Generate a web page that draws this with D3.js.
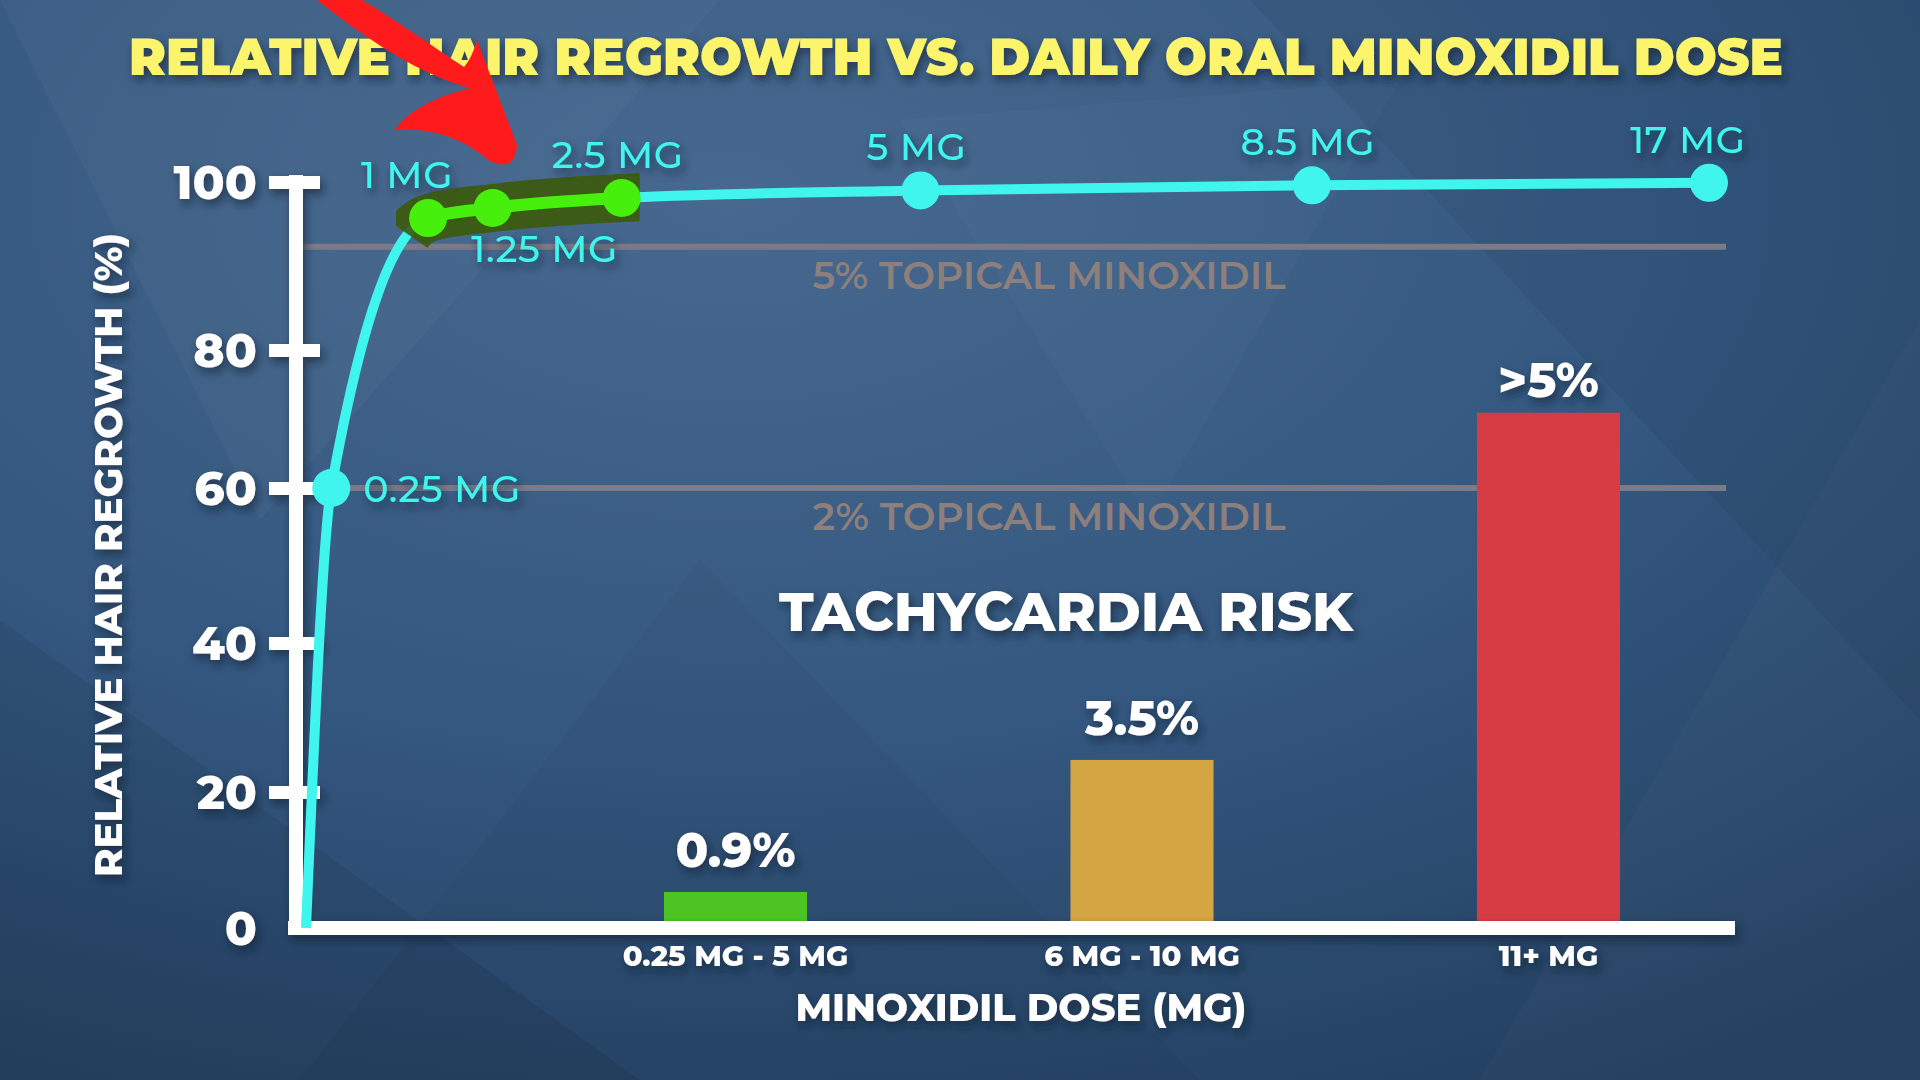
<!DOCTYPE html>
<html>
<head>
<meta charset="utf-8">
<script src="https://cdn.jsdelivr.net/npm/d3@7"></script>
<style>
html, body { margin: 0; padding: 0; background: #2c4d73; }
svg { display: block; }
text { font-family: Montserrat, Inter, "Open Sans", sans-serif; }
</style>
</head>
<body>
<div id="chart"></div>
<script>
// regrowth curve
var doseLabels = ["0 MG", "0.25 MG", "1 MG", "1.25 MG", "2.5 MG", "5 MG", "8.5 MG", "17 MG"];
var doseValues = [0, 0.25, 1, 1.25, 2.5, 5, 8.5, 17];
var regrowth = [0, 60, 95.7, 96.9, 98.1, 99.0, 99.6, 99.9];
var highlightDoses = [1, 1.25, 2.5];
var yTicks = [0, 20, 40, 60, 80, 100];

// topical reference lines
var topicalLabels = ["5% TOPICAL MINOXIDIL", "2% TOPICAL MINOXIDIL"];
var topicalLevels = [92.3, 60];

// tachycardia risk bars (heights read on the regrowth axis)
var riskCategories = ["0.25 MG - 5 MG", "6 MG - 10 MG", "11+ MG"];
var riskLabels = ["0.9%", "3.5%", ">5%"];
var riskBarLevel = [5.3, 24.3, 70.9];
var riskColors = ["#4cc524", "#d4a543", "#d63c44"];

var W = 1920, H = 1080;
var axisX = 296, plotLeft = 306, plotRight = 1709;

var svg = d3.select("#chart").append("svg")
	.attr("width", W)
	.attr("height", H);

var defs = svg.append("defs");

var bg = defs.append("radialGradient")
	.attr("id", "bg").attr("cx", "0.38").attr("cy", "0.18").attr("r", "0.95");
bg.append("stop").attr("offset", "0%").attr("stop-color", "#47698f");
bg.append("stop").attr("offset", "55%").attr("stop-color", "#34577f");
bg.append("stop").attr("offset", "100%").attr("stop-color", "#223f5f");

var sh = defs.append("filter").attr("id", "shadow")
	.attr("x", "-20%").attr("y", "-40%").attr("width", "140%").attr("height", "190%");
sh.append("feDropShadow")
	.attr("dx", 3).attr("dy", 5).attr("stdDeviation", 4)
	.attr("flood-color", "#0b1a2e").attr("flood-opacity", 0.6);

svg.append("rect").attr("width", W).attr("height", H).attr("fill", "url(#bg)");

// faint low-poly facets
var facets = [
	{p: [[0, 0], [720, 0], [260, 520]], f: "#ffffff", o: 0.03},
	{p: [[1250, 0], [1920, 0], [1920, 720]], f: "#000000", o: 0.05},
	{p: [[1480, 1080], [1920, 320], [1920, 1080]], f: "#ffffff", o: 0.02},
	{p: [[0, 620], [640, 1080], [0, 1080]], f: "#000000", o: 0.07},
	{p: [[700, 560], [1200, 1080], [300, 1080]], f: "#000000", o: 0.03},
	{p: [[900, 120], [1400, 80], [1150, 520]], f: "#ffffff", o: 0.02}
];
svg.append("g").selectAll("polygon")
	.data(facets)
	.enter().append("polygon")
	.attr("points", function(d) { return d.p.map(function(q) { return q.join(","); }).join(" "); })
	.attr("fill", function(d) { return d.f; })
	.attr("fill-opacity", function(d) { return d.o; });

// scales
var y = d3.scaleLinear()
	.domain(yTicks)
	.range([928, 792, 643, 488, 350, 182]);

var xBreaks = [0, 0.018, 0.087, 0.133, 0.225, 0.438, 0.717, 1];
var x = d3.scaleLinear()
	.domain(doseValues)
	.range(xBreaks.map(function(f) { return plotLeft + f * (plotRight - plotLeft); }));

var band = d3.scaleBand()
	.domain(riskCategories)
	.range([664, 1620])
	.paddingInner(0.648)
	.paddingOuter(0);

// topical reference lines
var topical = svg.append("g");
topical.selectAll("line")
	.data(topicalLevels)
	.enter().append("line")
	.attr("x1", axisX + 7).attr("x2", 1726)
	.attr("y1", function(d) { return y(d); })
	.attr("y2", function(d) { return y(d); })
	.attr("stroke", "#7b7a88")
	.attr("stroke-width", 6);
topical.selectAll("text")
	.data(topicalLabels)
	.enter().append("text")
	.attr("x", 1049)
	.attr("y", function(d, i) { return y(topicalLevels[i]) + 28 + 14; })
	.attr("text-anchor", "middle")
	.attr("font-size", 39)
	.attr("font-weight", 600)
	.attr("fill", "#8d7f7c")
	.attr("textLength", 473)
	.attr("lengthAdjust", "spacingAndGlyphs")
	.text(function(d) { return d; });

// risk bars
var bars = svg.append("g");
bars.selectAll("rect")
	.data(riskBarLevel)
	.enter().append("rect")
	.attr("x", function(d, i) { return band(riskCategories[i]); })
	.attr("width", band.bandwidth())
	.attr("y", function(d) { return y(d); })
	.attr("height", function(d) { return y(0) - y(d); })
	.attr("fill", function(d, i) { return riskColors[i]; });

var txt = svg.append("g").attr("filter", "url(#shadow)");

txt.selectAll(".risk")
	.data(riskLabels)
	.enter().append("text")
	.attr("class", "risk")
	.attr("x", function(d, i) { return band(riskCategories[i]) + band.bandwidth() / 2; })
	.attr("y", function(d, i) { return y(riskBarLevel[i]) - (i == 2 ? 16 : 25); })
	.attr("text-anchor", "middle")
	.attr("font-size", 48)
	.attr("font-weight", 800)
	.attr("fill", "#ffffff")
	.text(function(d) { return d; });

txt.append("text")
	.attr("x", 1066).attr("y", 631)
	.attr("text-anchor", "middle")
	.attr("font-size", 54)
	.attr("font-weight", 800)
	.attr("fill", "#ffffff")
	.attr("textLength", 574)
	.attr("lengthAdjust", "spacingAndGlyphs")
	.text("TACHYCARDIA RISK");

// axes
var axes = svg.append("g").attr("filter", "url(#shadow)");

var gy = axes.append("g")
	.attr("transform", "translate(" + axisX + ",0)")
	.call(d3.axisLeft(y).tickValues(yTicks).tickSize(0).tickPadding(39));
gy.select(".domain").remove();
gy.selectAll(".tick text")
	.attr("font-size", 47)
	.attr("font-weight", 800)
	.attr("fill", "#ffffff")
	.attr("dy", "0.36em");
gy.selectAll(".tick")
	.filter(function(d) { return d > 0; })
	.append("line")
	.attr("x1", -27).attr("x2", 24)
	.attr("stroke", "#ffffff")
	.attr("stroke-width", 13);

axes.append("line")
	.attr("x1", axisX).attr("x2", axisX)
	.attr("y1", y(100) - 7).attr("y2", y(0) + 7)
	.attr("stroke", "#ffffff")
	.attr("stroke-width", 14);

var gx = axes.append("g")
	.attr("transform", "translate(0," + y(0) + ")")
	.call(d3.axisBottom(band).tickSize(0).tickPadding(17));
gx.select(".domain").remove();
gx.selectAll(".tick text")
	.attr("font-size", 29)
	.attr("font-weight", 800)
	.attr("fill", "#ffffff");

axes.append("line")
	.attr("x1", axisX - 8).attr("x2", 1735)
	.attr("y1", y(0)).attr("y2", y(0))
	.attr("stroke", "#ffffff")
	.attr("stroke-width", 14);

txt.append("text")
	.attr("x", 1021).attr("y", 1021)
	.attr("text-anchor", "middle")
	.attr("font-size", 38)
	.attr("font-weight", 800)
	.attr("fill", "#ffffff")
	.attr("textLength", 451)
	.attr("lengthAdjust", "spacingAndGlyphs")
	.text("MINOXIDIL DOSE (MG)");

txt.append("text")
	.attr("transform", "translate(122,555) rotate(-90)")
	.attr("text-anchor", "middle")
	.attr("font-size", 38)
	.attr("font-weight", 800)
	.attr("fill", "#ffffff")
	.attr("textLength", 644)
	.attr("lengthAdjust", "spacingAndGlyphs")
	.text("RELATIVE HAIR REGROWTH (%)");

// regrowth curve
var points = doseValues.map(function(d, i) { return {dose: d, label: doseLabels[i], value: regrowth[i]}; });

var line = d3.line()
	.x(function(d) { return x(d.dose); })
	.y(function(d) { return y(d.value); })
	.curve(d3.curveMonotoneX);

var gc = svg.append("g");
var curve = gc.append("path")
	.datum(points)
	.attr("d", line)
	.attr("fill", "none")
	.attr("stroke", "#3ff5ee")
	.attr("stroke-width", 10);

var node = curve.node();
var total = node.getTotalLength();
function lengthAtX(px) {
	var lo = 0, hi = total;
	for (var i = 0; i < 40; i++) {
		var mid = (lo + hi) / 2;
		if (node.getPointAtLength(mid).x < px) lo = mid; else hi = mid;
	}
	return lo;
}
function dashFor(xa, xb) {
	var a = lengthAtX(xa), b = lengthAtX(xb);
	return "0," + a + "," + (b - a) + "," + total;
}

// highlight band (cut diagonally at its left end) and green segment
var hiMin = d3.min(highlightDoses), hiMax = d3.max(highlightDoses);
var p1 = [x(hiMin), y(regrowth[doseValues.indexOf(hiMin)])];
var p2 = [x(hiMax), y(regrowth[doseValues.indexOf(hiMax)])];
defs.append("clipPath").attr("id", "bandClip")
	.append("polygon")
	.attr("points", [
		[p1[0] - 32, p1[1] - 70],
		[p2[0] + 18, p1[1] - 70],
		[p2[0] + 18, p1[1] + 44],
		[p1[0] + 20, p1[1] + 44],
		[p1[0] - 32, p1[1] + 8]
	].map(function(q) { return q.join(","); }).join(" "));

gc.append("path")
	.datum(points)
	.attr("d", line)
	.attr("clip-path", "url(#bandClip)")
	.attr("fill", "none")
	.attr("stroke", "#3b5a0a")
	.attr("stroke-opacity", 0.9)
	.attr("stroke-width", 48)
	.attr("stroke-dasharray", dashFor(p1[0] - 45, p2[0] + 30));

gc.append("path")
	.datum(points)
	.attr("d", line)
	.attr("fill", "none")
	.attr("stroke", "#46f00c")
	.attr("stroke-width", 12)
	.attr("stroke-dasharray", dashFor(p1[0], p2[0]));

gc.selectAll("circle")
	.data(points.filter(function(d) { return d.dose > 0; }))
	.enter().append("circle")
	.attr("cx", function(d) { return x(d.dose); })
	.attr("cy", function(d) { return y(d.value); })
	.attr("r", 19)
	.attr("fill", function(d) { return highlightDoses.indexOf(d.dose) >= 0 ? "#46f00c" : "#3ff5ee"; });

// dose labels
var labelSide = {"0.25 MG": "right", "1 MG": "aboveLeft", "1.25 MG": "below", "17 MG": "aboveLeft"};
var offsets = {
	right: [32, 0, "start"],
	aboveLeft: [-21, -44, "middle"],
	above: [-4, -44, "middle"],
	below: [52, 40, "middle"]
};
txt.selectAll(".dose")
	.data(points.filter(function(d) { return d.dose > 0; }))
	.enter().append("text")
	.attr("class", "dose")
	.each(function(d) {
		var o = offsets[labelSide[d.label] || "above"];
		d3.select(this)
			.attr("x", x(d.dose) + o[0])
			.attr("y", y(d.value) + o[1])
			.attr("dy", "0.36em")
			.attr("text-anchor", o[2]);
	})
	.attr("font-size", 38)
	.attr("font-weight", 500)
	.attr("letter-spacing", 0.6)
	.attr("fill", "#3ff5ee")
	.text(function(d) { return d.label; });

// title
txt.append("text")
	.attr("x", 956).attr("y", 75)
	.attr("text-anchor", "middle")
	.attr("font-size", 51)
	.attr("font-weight", 900)
	.attr("fill", "#fcf56c")
	.attr("textLength", 1654)
	.attr("lengthAdjust", "spacingAndGlyphs")
	.text("RELATIVE HAIR REGROWTH VS. DAILY ORAL MINOXIDIL DOSE");

// red pointer arrow
svg.append("path")
	.attr("d", "M317,0 C352,27 410,72 470,88 C440,96 410,108 395,130 C432,127 466,140 488,160 Q515,174 517,145 L477,40 C473,54 469,61 464,67 C432,46 396,20 362,0 Z")
	.attr("fill", "#ff1b1b");
</script>
</body>
</html>
